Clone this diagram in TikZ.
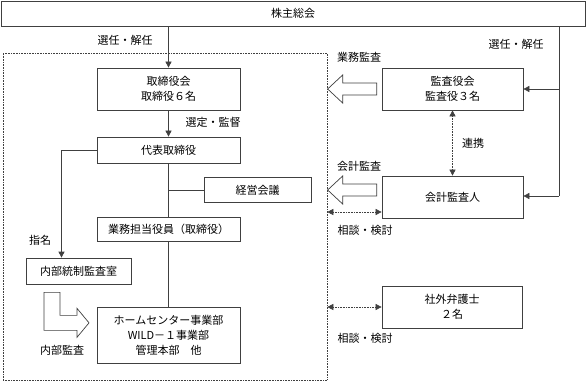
\documentclass[tikz,border=0pt]{standalone}
\usepackage{fontspec}
\setmainfont{Noto Sans CJK JP}
\usetikzlibrary{arrows.meta, positioning, calc}

\begin{document}
\begin{tikzpicture}[
    x=1pt, y=-1pt,
    every node/.style={font=\fontsize{11}{15}\selectfont, align=center, inner sep=0pt},
    box/.style   ={draw=black!75, line width=0.7pt, rectangle, fill=white},
    grpbox/.style={draw=black!75, line width=0.6pt, densely dotted, rectangle,
                   minimum width=324pt, minimum height=327pt},
    arr/.style   ={-{Triangle[length=6pt,width=6pt]}, draw=black!75, line width=0.7pt},
    darr/.style  ={{Triangle[length=6pt,width=6pt]}-{Triangle[length=6pt,width=6pt]},
                   draw=black!75, line width=0.6pt, densely dotted},
    ln/.style    ={draw=black!75, line width=0.7pt},
    hollow/.style={draw=black!75, line width=0.7pt, fill=white, line join=miter}
]
\useasboundingbox (0,0) rectangle (586,382);

\node[grpbox] (grp) at (165,216.5) {};

\node[box, minimum width=584pt, minimum height=25pt] (top)    at (293,13.5) {株主総会};
\node[box, minimum width=143pt, minimum height=42pt] (brd)    at (168.5,89) {取締役会\\取締役６名};
\node[box, minimum width=141pt, minimum height=42pt] (kansa)  at (452.5,89) {監査役会\\監査役３名};
\node[box, minimum width=143pt, minimum height=26pt] (daihyo) at (168.5,150) {代表取締役};
\node[box, minimum width=107pt, minimum height=25pt] (keiei)  at (257.5,190) {経営会議};
\node[box, minimum width=143pt, minimum height=24pt] (gyomu)  at (168.5,229) {業務担当役員（取締役）};
\node[box, minimum width=105pt, minimum height=26pt] (naibu)  at (78.5,271) {内部統制監査室};
\node[box, minimum width=143pt, minimum height=56pt] (honbu)  at (168.5,335) {ホームセンター事業部\\WILD－１事業部\\管理本部　他};
\node[box, minimum width=141pt, minimum height=42pt] (kaikei) at (452.5,197) {会計監査人};
\node[box, minimum width=140pt, minimum height=42pt] (bengo)  at (452,307) {社外弁護士\\２名};

\node (l1) at (125,40)  {選任・解任};
\node (l2) at (516,44)  {選任・解任};
\node (l3) at (213,122) {選定・監督};
\node (l4) at (40,240)  {指名};
\node (l5) at (62,350)  {内部監査};
\node (l6) at (359,57)  {業務監査};
\node (l7) at (473,143) {連携};
\node (l8) at (359,166) {会計監査};
\node (l9) at (365,230) {相談・検討};
\node (l10) at (365,338) {相談・検討};

\coordinate (r1) at (559,89);
\coordinate (r2) at (559,196);
\coordinate (k1) at ([yshift=-15pt]kaikei.west);

\draw[arr] (top.south -| brd.north) -- (brd.north);
\draw[arr] (brd) -- (daihyo);
\draw[arr] (daihyo.west) -| ([xshift=-17pt]naibu.north);
\draw[ln] (daihyo) -- (gyomu);
\draw[ln] (keiei.west) -- (keiei.west -| daihyo.south);
\draw[ln] (gyomu) -- (honbu);

\draw[ln] (top.south -| r1) -- (r2);
\draw[arr] (r1) -- (r1 -| kansa.east);
\draw[arr] (r2) -- (r2 -| kaikei.east);

\draw[darr] (kansa.south) -- (kaikei.north);
\draw[darr] (k1 -| grp.east) -- (k1);
\draw[darr] (bengo.west -| grp.east) -- (bengo.west);

\draw[hollow] ($(kansa.west)+(-5,-6)$) -- ++(-34,0) -- ++(0,-8) -- ++(-15,14)
    -- ++(15,14) -- ++(0,-8) -- ++(34,0) -- cycle;
\draw[hollow] ($(kaikei.west)+(-5,-13)$) -- ++(-34,0) -- ++(0,-8) -- ++(-15,14)
    -- ++(15,14) -- ++(0,-8) -- ++(34,0) -- cycle;
\draw[hollow] ($(naibu.south)+(-34.5,8)$) -- ++(16,0) -- ++(0,23) -- ++(17,0)
    -- ++(0,-7) -- ++(12,14.5) -- ++(-12,14.5) -- ++(0,-7) -- ++(-33,0) -- cycle;
\end{tikzpicture}
\end{document}
